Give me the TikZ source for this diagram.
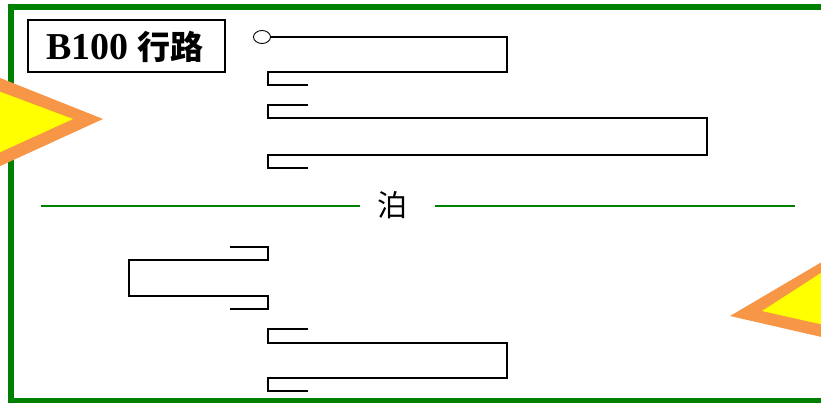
\documentclass[tikz,border=0pt]{standalone}
\usepackage{fontspec}
\setmainfont{Liberation Serif}
\newfontfamily\cjkbold{Noto Sans CJK SC Bold}
\newfontfamily\cjkreg{Noto Sans CJK SC}
\definecolor{frameg}{RGB}{0,128,0}
\definecolor{triorange}{RGB}{247,150,70}
\definecolor{triyellow}{RGB}{255,255,0}
\begin{document}
\begin{tikzpicture}[x=1pt,y=-1pt,
  wire/.style={line width=2.3pt,line join=miter,black},
  greenline/.style={line width=1.8pt,frameg},
  labelbox/.style={draw=black,line width=1.4pt,minimum width=197pt,minimum height=52pt,inner sep=0pt},
]
\useasboundingbox (0,0) rectangle (821,403);
\clip (0,0) rectangle (821,403);
% frame
\draw[line width=6pt,frameg] (11,7) rectangle (835,401);
% label
\node[labelbox] (lbl) at (126.5,46) {};
\node[inner sep=0pt] (lbltxt) at (125,47) {\fontsize{38pt}{40pt}\selectfont\bfseries B100\hspace{9pt}{\cjkbold\fontsize{33pt}{35pt}\selectfont 行路}};
% top shape 1
\draw[line width=0.9pt] (262,37) ellipse (8.5pt and 6.5pt);
\coordinate (c1) at (270.5,37);
\draw[wire] (c1) -- (507,37) -- (507,72) -- (268,72) -- (268,85) -- (308,85);
% top shape 2
\draw[wire] (308,105) -- (268,105) -- (268,118) -- (707,118) -- (707,155) -- (268,155) -- (268,168) -- (308,168);
% middle line
\node (bo) at (392,205) {\cjkreg\fontsize{30pt}{32pt}\selectfont 泊};
\draw[greenline] (41,206) -- (360,206);
\draw[greenline] (435,206) -- (795,206);
% bottom shape 1
\draw[wire] (230,247) -- (268,247) -- (268,260) -- (129,260) -- (129,296) -- (268,296) -- (268,309) -- (230,309);
% bottom shape 2
\draw[wire] (308,329) -- (268,329) -- (268,343) -- (507,343) -- (507,378) -- (268,378) -- (268,391) -- (308,391);
% left triangle
\fill[triorange] (103,119) -- (-50,58) -- (-50,189) -- cycle;
\fill[triyellow] (73,119) -- (-50,73) -- (-50,175) -- cycle;
% right triangle
\fill[triorange] (730,316) -- (900,216) -- (900,355) -- cycle;
\fill[triyellow] (762,311) -- (900,222) -- (900,342) -- cycle;
\end{tikzpicture}
\end{document}
